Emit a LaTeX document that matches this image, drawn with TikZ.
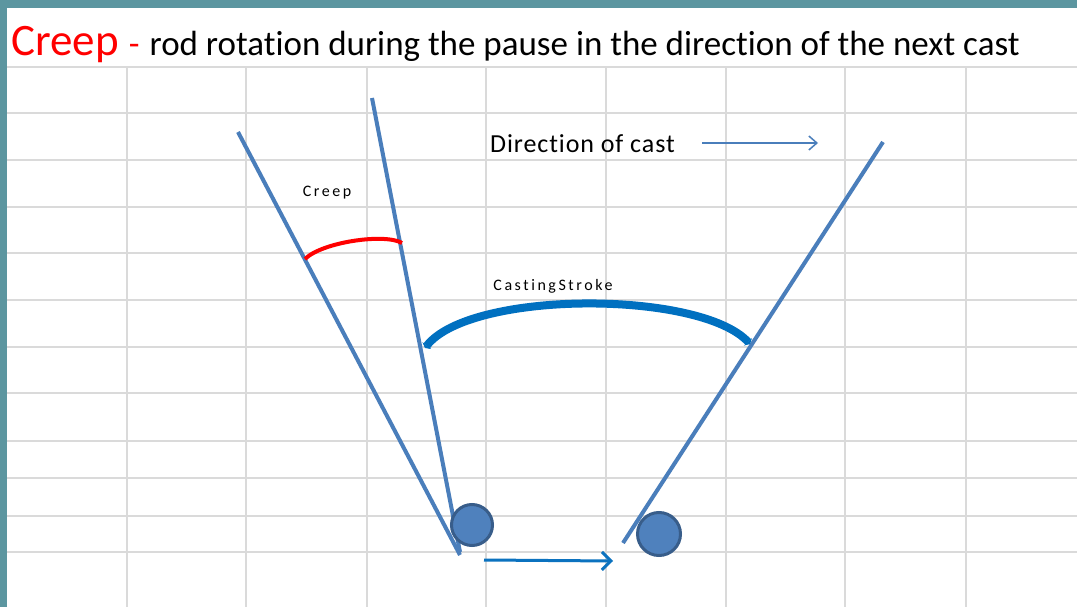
\documentclass[tikz,border=0pt]{standalone}
\usepackage{fontspec}
\setmainfont[Ligatures=NoCommon]{Carlito}
\usetikzlibrary{arrows.meta}
\definecolor{frameteal}{RGB}{92,150,160}
\definecolor{gridgrey}{RGB}{218,218,218}
\definecolor{rodblue}{RGB}{74,126,187}
\definecolor{strokeblue}{RGB}{0,112,192}
\definecolor{balledge}{RGB}{56,93,138}
\definecolor{ballfill}{RGB}{79,129,189}
\tikzset{
  gridline/.style={draw=gridgrey, line width=1.3pt},
  rod/.style={draw=rodblue, line width=4pt},
  ball/.style={circle, draw=balledge, fill=ballfill, line width=3pt, minimum size=41pt, inner sep=0pt},
  label/.style={font=\fontsize{16}{16}\selectfont\addfontfeature{LetterSpace=16}, text=black},
}
\begin{document}
\begin{tikzpicture}[x=1pt,y=-1pt]
\useasboundingbox (0,0) rectangle (1077,607);
\fill[frameteal] (0,0) rectangle (1077,607);
\fill[white] (7,8) rectangle (1077,607);
% grid
\foreach \y in {67,113,160,207,253,300,347,393,441,478,516,552}
  \draw[gridline] (7,\y) -- (1077,\y);
\foreach \x in {127,246,367,486,606,726,845,966}
  \draw[gridline] (\x,67) -- (\x,607);
% title
\node[anchor=base west, inner sep=0pt] (title) at (11,56)
  {{\color{red}\fontsize{45}{45}\selectfont Creep \fontsize{35}{35}\selectfont -}\hspace{10pt}\fontsize{35}{35}\selectfont rod rotation during the pause in the direction of the next cast};
% rods
\coordinate (rodAtop) at (238,132);
\coordinate (rodAbot) at (460,555);
\coordinate (rodBtop) at (372,98);
\coordinate (rodBbot) at (460,552);
\coordinate (rodCtop) at (883,142);
\coordinate (rodCbot) at (623,543);
\draw[rod] (rodAtop) -- (rodAbot);
\draw[rod] (rodBtop) -- (rodBbot);
\draw[rod] (rodCtop) -- (rodCbot);
% balls
\node[ball] (ballA) at (472,525) {};
\node[ball, minimum size=43pt] (ballB) at (659,534) {};
% move arrow
\coordinate (moveS) at (484,560);
\coordinate (moveE) at (613,561);
\draw[draw=strokeblue!85!rodblue, line width=3pt, -{Straight Barb[length=9pt,width=18pt,line width=3pt]}] (moveS) -- (moveE);
% creep arc
\coordinate (creepS) at (305,259);
\coordinate (creepE) at (402,243);
\draw[red, line width=4pt] (creepS) .. controls (322,242) and (385,233) .. (creepE);
\node[label] (creeplbl) at (327,193) {Creep};
% casting stroke arc
\coordinate (castS) at (425,348);
\coordinate (castE) at (750,344);
\draw[strokeblue, line width=8pt, {Triangle[width=11pt,length=3pt]}-{Triangle[width=11pt,length=3pt]}] (castS) .. controls (470,290) and (700,290) .. (castE);
\node[label] (castlbl) at (553,286) {CastingStroke};
% direction of cast
\node[anchor=west, inner sep=0pt, font=\fontsize{26}{26}\selectfont\addfontfeature{LetterSpace=3.5}] (dirlbl) at (490,144) {Direction of cast};
\coordinate (dirE) at (818,143);
\draw[draw=rodblue, line width=1.5pt, -{Straight Barb[length=8pt,width=14pt,line width=1.5pt]}] (702,143) -- (dirE);
\end{tikzpicture}
\end{document}
